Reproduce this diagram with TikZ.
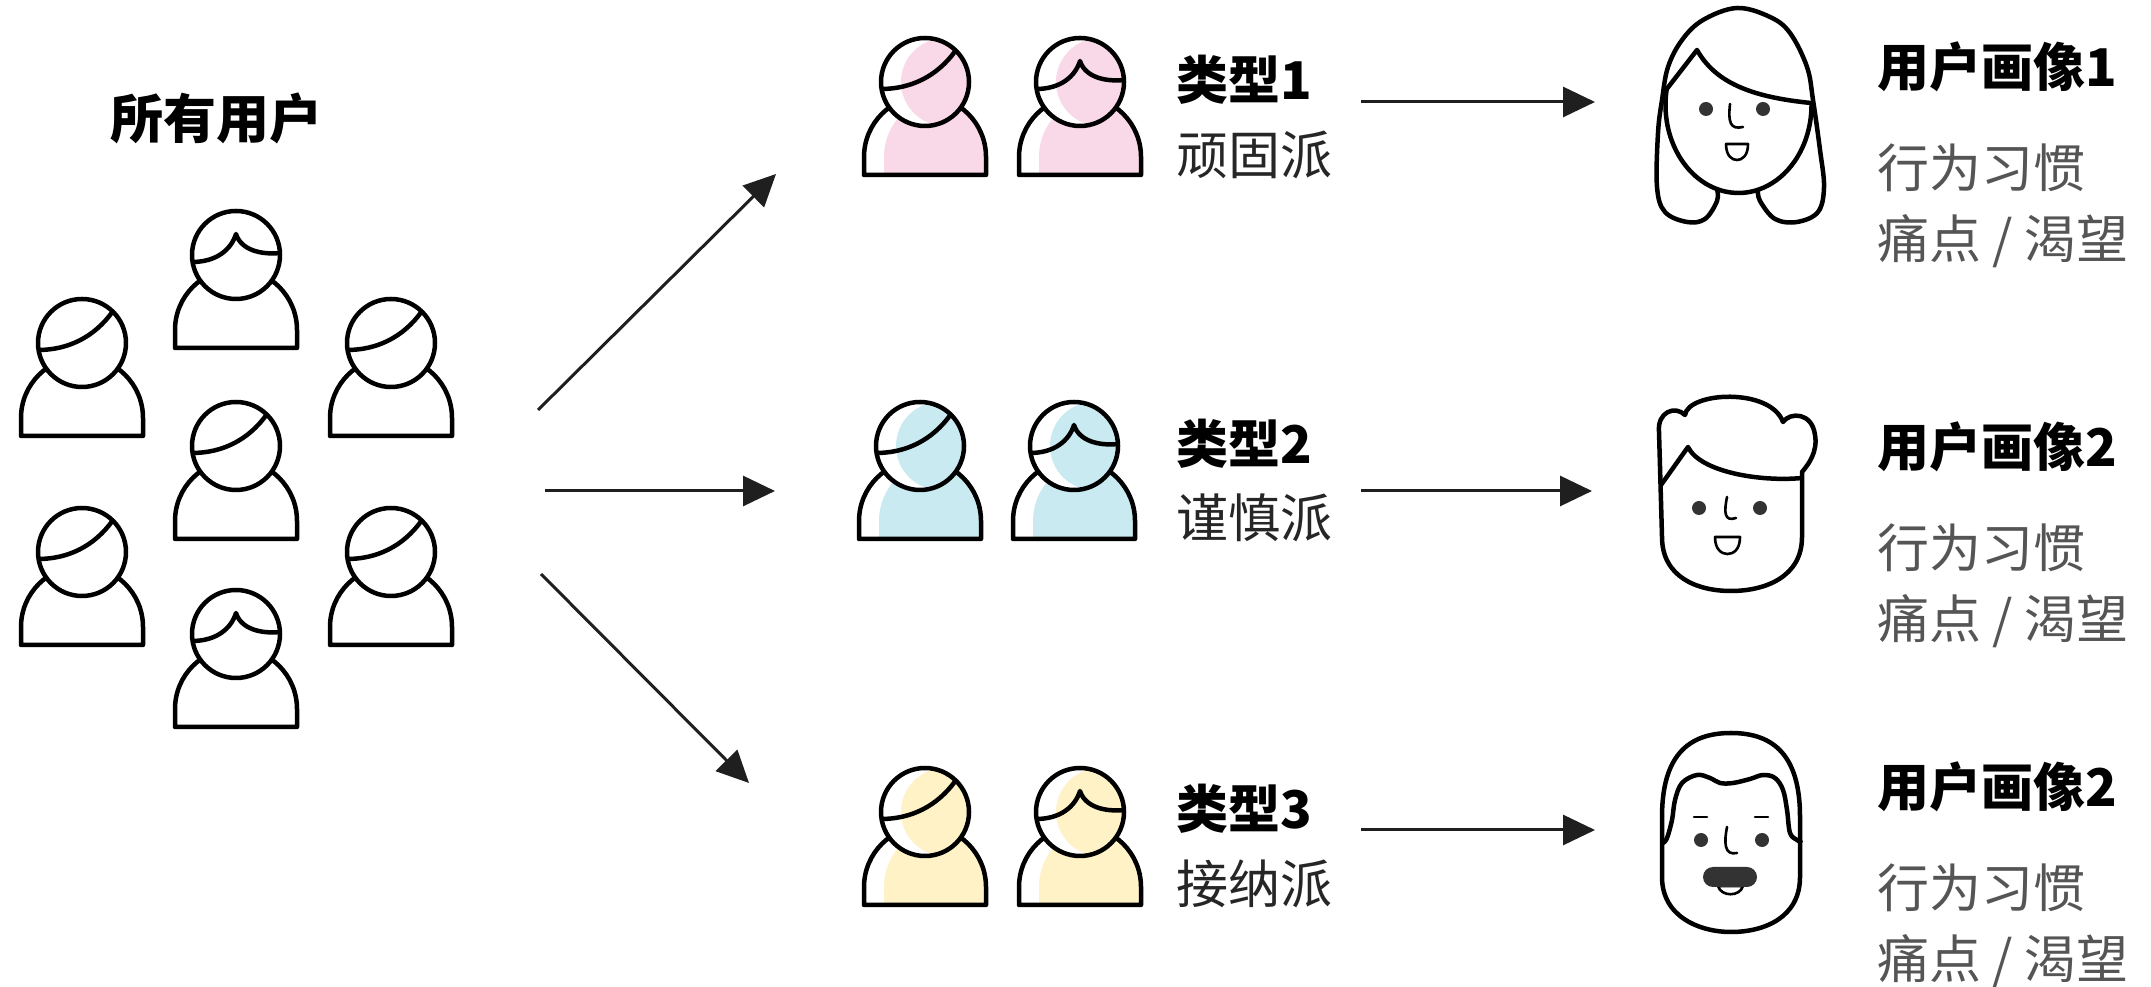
\documentclass[tikz,border=0pt]{standalone}
\usepackage{fontspec}
\setmainfont{Noto Sans CJK SC}
\usetikzlibrary{arrows.meta}
\definecolor{pinkfill}{HTML}{F9D8E7}
\definecolor{bluefill}{HTML}{C9EAF1}
\definecolor{yellowfill}{HTML}{FEF2C6}
\definecolor{facedot}{HTML}{333333}
\definecolor{notegray}{HTML}{555555}

\begin{document}
\begin{tikzpicture}[x=1pt,y=1pt,
  icon line/.style={line width=4.5pt, line join=round},
  thin line/.style={line width=2.6pt, line cap=round},
  body path/.style={insert path={(-61,-93) -- (-61,-75) arc[start angle=180,end angle=0,radius=61] -- (61,-93) -- cycle}},
  head path/.style={insert path={(0,0) circle[radius=44]}},
  side hair/.style={insert path={(-44,-7) .. controls (-15,-7) and (12,5) .. (31,32)}},
  bangs/.style={insert path={(-44,-7) .. controls (-20,-7) and (-5,5) .. (0,21) .. controls (5,5) and (25,0) .. (44,2)}},
  pics/person/.style 2 args={code={
    \path[fill=white, body path];
    \begin{scope}
      \clip[body path];
      \fill[#2, xshift=20pt, body path];
    \end{scope}
    \draw[icon line, body path];
    \path[fill=white, head path];
    \begin{scope}
      \clip[head path];
      \fill[#2, xshift=20pt, head path];
    \end{scope}
    \draw[icon line, head path];
    \draw[icon line, #1];
  }},
  group title/.style={font=\fontsize{53}{60}\selectfont\bfseries, inner sep=0pt},
  type title/.style={font=\fontsize{52}{60}\selectfont\bfseries, anchor=west, inner sep=0pt},
  type note/.style={font=\fontsize{52}{60}\selectfont, anchor=west, inner sep=0pt, text=black!85},
  persona title/.style={type title},
  persona note/.style={type note, text=notegray},
  sketch/.style={line width=3pt, draw=black!88, -{Triangle[length=32pt,width=30pt]}}]

\useasboundingbox (0,0) rectangle (2151,987);

% all users
\node[group title] (all) at (216,869) {所有用户};
\pic at (236,732) {person={bangs}{white}};
\pic at (82,644) {person={side hair}{white}};
\pic at (391,644) {person={side hair}{white}};
\pic at (236,541) {person={side hair}{white}};
\pic at (82,435) {person={side hair}{white}};
\pic at (391,435) {person={side hair}{white}};
\pic at (236,353) {person={bangs}{white}};

% split arrows
\coordinate (up s) at (538,577);
\coordinate (up e) at (776,813);
\coordinate (mid s) at (545,496);
\coordinate (mid e) at (775,496);
\coordinate (down s) at (541,413);
\coordinate (down e) at (749,204);
\draw[sketch] (up s) -- (up e);
\draw[sketch] (mid s) -- (mid e);
\draw[sketch] (down s) -- (down e);

% three types
\pic at (925,905) {person={side hair}{pinkfill}};
\pic at (1080,905) {person={bangs}{pinkfill}};
\node[type title] (t1) at (1176,907) {类型1};
\node[type note] (n1) at (1176,832) {顽固派};

\pic at (920,541) {person={side hair}{bluefill}};
\pic at (1074,541) {person={bangs}{bluefill}};
\node[type title] (t2) at (1176,543) {类型2};
\node[type note] (n2) at (1176,469) {谨慎派};

\pic at (925,175) {person={side hair}{yellowfill}};
\pic at (1080,175) {person={bangs}{yellowfill}};
\node[type title] (t3) at (1176,178) {类型3};
\node[type note] (n3) at (1176,103) {接纳派};

% arrows to personas
\coordinate (r1 s) at (1361,885);
\coordinate (r1 e) at (1595,885);
\coordinate (r2 s) at (1361,496);
\coordinate (r2 e) at (1592,496);
\coordinate (r3 s) at (1361,157);
\coordinate (r3 e) at (1595,157);
\draw[sketch] (r1 s) -- (r1 e);
\draw[sketch] (r2 s) -- (r2 e);
\draw[sketch] (r3 s) -- (r3 e);

% persona 1: long hair
\draw[icon line] plot[smooth, tension=0.6] coordinates {(1717,798) (1717,786) (1705,768) (1687,765) (1665,775) (1657,800) (1658,854) (1662,887) (1668,920) (1682,947) (1703,967) (1737,979) (1770,970) (1790,954) (1807,920) (1813,887) (1820,837) (1824,800) (1818,775) (1797,765) (1775,768) (1760,786) (1758,797)};
\draw[icon line] (1738.5,882) ++(170:73 and 88) arc[start angle=170, end angle=362, x radius=73, y radius=88];
\draw[icon line] (1666,897) -- (1697,937) .. controls (1715,905) and (1750,890) .. (1811,884);
\fill[facedot] (1706,878) circle[radius=7] (1763,878) circle[radius=7];
\draw[thin line] (1730,883) .. controls (1728,865) and (1730,857) .. (1743,860);
\draw[thin line, line join=round] (1726,843) -- (1748,843) .. controls (1748,831) and (1742,827) .. (1737,827) .. controls (1732,827) and (1726,831) .. cycle;
\node[persona title] (p1) at (1877,920) {用户画像1};
\node[persona note] (h1) at (1877,819) {行为习惯};
\node[persona note] (w1) at (1877,746) {痛点 / 渴望};

% persona 2: quiff
\draw[icon line] (1659,555) .. controls (1657,575) and (1675,582) .. (1685,572)
  .. controls (1688,595) and (1770,600) .. (1783,565)
  .. controls (1790,575) and (1812,575) .. (1815,552)
  .. controls (1818,535) and (1808,522) .. (1802,515)
  -- (1802,450) .. controls (1802,410) and (1765,396) .. (1731,396)
  .. controls (1697,396) and (1662,410) .. (1662,450) -- cycle;
\draw[icon line] (1802,509) .. controls (1760,505) and (1700,515) .. (1688,540) -- (1661,502);
\fill[facedot] (1699,479) circle[radius=7] (1760,479) circle[radius=7];
\draw[thin line] (1727,490) .. controls (1724,475) and (1724,465) .. (1736,469);
\draw[thin line, line join=round] (1715,450) -- (1740,450) .. controls (1740,437) and (1733,433) .. (1727.5,433) .. controls (1722,433) and (1715,437) .. cycle;
\node[persona title] (p2) at (1877,540) {用户画像2};
\node[persona note] (h2) at (1877,439) {行为习惯};
\node[persona note] (w2) at (1877,366) {痛点 / 渴望};

% persona 3: moustache
\draw[icon line] (1662,167) -- (1662,110) .. controls (1662,70) and (1700,55) .. (1731,55)
  .. controls (1765,55) and (1800,70) .. (1800,110) -- (1800,170)
  .. controls (1800,230) and (1775,254) .. (1731,254)
  .. controls (1687,254) and (1662,230) .. (1662,170) -- cycle;
\draw[icon line] plot[smooth, tension=0.6] coordinates {(1663,144) (1667,149) (1672,167) (1675,187) (1682,204) (1697,212) (1710,209) (1720,204) (1733,204) (1750,208) (1763,212) (1775,209) (1783,197) (1787,177) (1790,154) (1797,147) (1802,144)};
\draw[thin line] (1694,170) -- (1707,170) (1755,170) -- (1768,170);
\fill[facedot] (1701,147) circle[radius=7] (1762,147) circle[radius=7];
\draw[thin line] (1727,160) .. controls (1724,145) and (1724,131) .. (1737,134);
\draw[thin line, fill=white] (1718,101) .. controls (1721,90) and (1740,90) .. (1743,101) -- cycle;
\fill[facedot, rounded corners=10pt] (1703,100) rectangle (1757,120);
\node[persona title] (p3) at (1877,200) {用户画像2};
\node[persona note] (h3) at (1877,99) {行为习惯};
\node[persona note] (w3) at (1877,26) {痛点 / 渴望};

\end{tikzpicture}
\end{document}
